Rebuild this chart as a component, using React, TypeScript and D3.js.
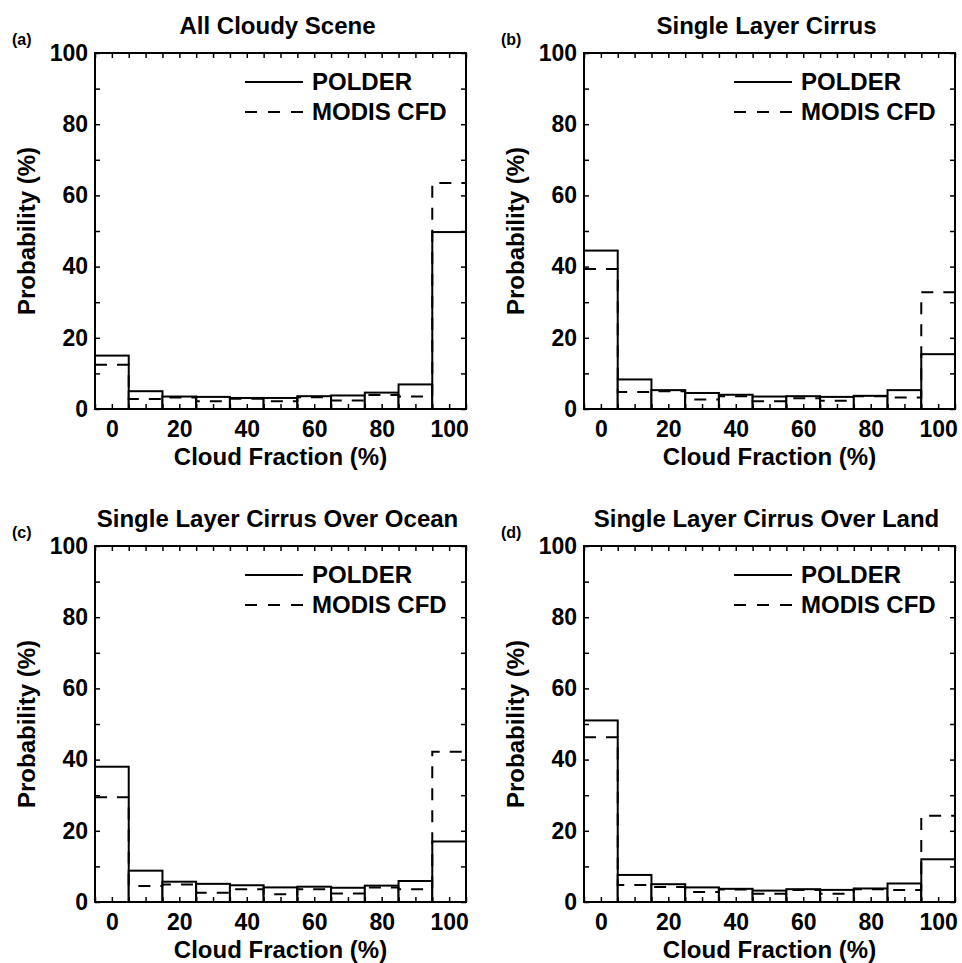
import React, { useEffect, useRef } from "react";
import * as d3 from "d3";

// cloud fraction bins (bin centres, %)
const bins = [0, 10, 20, 30, 40, 50, 60, 70, 80, 90, 100];

const titles = [
  "All Cloudy Scene",
  "Single Layer Cirrus",
  "Single Layer Cirrus Over Ocean",
  "Single Layer Cirrus Over Land",
];
const letters = ["(a)", "(b)", "(c)", "(d)"];

const polderA = [15, 5.0, 3.5, 3.4, 3.1, 3.1, 3.6, 3.8, 4.6, 6.9, 49.7];
const modisA = [12.4, 2.8, 3.2, 2.2, 2.9, 2.2, 3.3, 2.4, 3.9, 3.5, 63.5];
const polderB = [44.5, 8.3, 5.3, 4.5, 4.0, 3.5, 3.6, 3.4, 3.7, 5.3, 15.4];
const modisB = [39.3, 4.8, 5.0, 2.7, 3.6, 2.2, 3.0, 2.3, 3.6, 3.2, 32.8];
const polderC = [38, 8.8, 5.7, 5.1, 4.7, 4.1, 4.3, 4.0, 4.6, 5.9, 17.0];
const modisC = [29.4, 4.5, 4.9, 2.6, 3.6, 2.2, 3.6, 2.4, 4.1, 3.6, 42.2];
const polderD = [51, 7.6, 5.0, 4.1, 3.7, 3.2, 3.6, 3.4, 3.8, 5.2, 12.0];
const modisD = [46.3, 4.8, 4.2, 2.8, 3.5, 2.3, 3.4, 2.3, 3.6, 3.4, 24.2];

const seriesNames = ["POLDER", "MODIS CFD"];

const FONT = "'Liberation Sans', Arial, Helvetica, sans-serif";

function App() {
  const svgRef = useRef<SVGSVGElement>(null);

  useEffect(() => {
    const svg = d3.select(svgRef.current);
    svg.selectAll("*").remove();

    const panels = [
      { left: 95, top: 53, polder: polderA, modis: modisA },
      { left: 584, top: 53, polder: polderB, modis: modisB },
      { left: 95, top: 546, polder: polderC, modis: modisC },
      { left: 584, top: 546, polder: polderD, modis: modisD },
    ];
    const w = 371;
    const h = 356;

    const x = d3.scaleLinear().domain([-5, 105]).range([0, w]);
    const y = d3.scaleLinear().domain([0, 100]).range([h, 0]);

    panels.forEach((p, i) => {
      const g = svg
        .append("g")
        .attr("transform", `translate(${p.left},${p.top})`)
        .style("font-family", FONT)
        .style("font-weight", "bold");

      // POLDER bars (solid)
      g.selectAll(".bar")
        .data(bins)
        .enter()
        .append("rect")
        .attr("x", (d) => x(d - 5))
        .attr("width", (d) => x(d + 5) - x(d - 5))
        .attr("y", (d, j) => y(p.polder[j]))
        .attr("height", (d, j) => h - y(p.polder[j]))
        .attr("fill", "white")
        .attr("stroke", "#000")
        .attr("stroke-width", 2);

      // MODIS CFD step outline (dashed)
      const steps: [number, number][] = bins.map((b, j) => [b - 5, p.modis[j]]);
      steps.push([105, p.modis[p.modis.length - 1]]);
      const line = d3
        .line<[number, number]>()
        .x((d) => x(d[0]))
        .y((d) => y(d[1]))
        .curve(d3.curveStepAfter);
      g.append("path")
        .attr("d", line(steps))
        .attr("fill", "none")
        .attr("stroke", "#000")
        .attr("stroke-width", 2)
        .attr("stroke-dasharray", "12,10");

      // axes: inward ticks
      const xTicks = d3.range(-5, 106, 5);
      const yTicks = d3.range(0, 101, 10);
      const bottom = g
        .append("g")
        .attr("transform", `translate(0,${h})`)
        .call(
          d3
            .axisBottom(x)
            .tickValues(xTicks)
            .tickSizeInner(-5)
            .tickSizeOuter(0)
            .tickPadding(12)
            .tickFormat((d) => (+d >= 0 && +d % 20 === 0 ? String(d) : ""))
        );
      const left = g.append("g").call(
        d3
          .axisLeft(y)
          .tickValues(yTicks)
          .tickSizeInner(-5)
          .tickSizeOuter(0)
          .tickPadding(7)
          .tickFormat((d) => (+d % 20 === 0 ? String(d) : ""))
      );
      const top = g.append("g").call(
        d3.axisTop(x).tickValues(xTicks).tickSizeInner(-5).tickSizeOuter(0).tickFormat(() => "")
      );
      const right = g
        .append("g")
        .attr("transform", `translate(${w},0)`)
        .call(
          d3.axisRight(y).tickValues(yTicks).tickSizeInner(-5).tickSizeOuter(0).tickFormat(() => "")
        );
      [bottom, left, top, right].forEach((a) => {
        a.select(".domain").remove();
        a.selectAll("line").attr("stroke-width", 1.5);
        a.selectAll("text")
          .attr("fill", "#000")
          .style("font-family", FONT)
          .style("font-weight", "bold")
          .style("font-size", "23px");
      });

      // frame
      g.append("rect")
        .attr("width", w)
        .attr("height", h)
        .attr("fill", "none")
        .attr("stroke", "#000")
        .attr("stroke-width", 2);

      // titles and labels
      g.append("text")
        .attr("x", w / 2 - 3)
        .attr("y", -19)
        .attr("text-anchor", "middle")
        .style("font-size", "24px")
        .text(titles[i]);
      g.append("text")
        .attr("x", -83)
        .attr("y", -8)
        .style("font-size", "16px")
        .text(letters[i]);
      g.append("text")
        .attr("x", w / 2)
        .attr("y", h + 56)
        .attr("text-anchor", "middle")
        .style("font-size", "24px")
        .text("Cloud Fraction (%)");
      g.append("text")
        .attr("transform", `translate(-60,${h / 2}) rotate(-90)`)
        .attr("text-anchor", "middle")
        .style("font-size", "24px")
        .text("Probability (%)");

      // legend
      const legend = g.append("g").attr("transform", "translate(150,0)");
      seriesNames.forEach((name, k) => {
        legend
          .append("line")
          .attr("x1", 0)
          .attr("x2", 58)
          .attr("y1", 29 + k * 30)
          .attr("y2", 29 + k * 30)
          .attr("stroke", "#000")
          .attr("stroke-width", 2)
          .attr("stroke-dasharray", k === 1 ? "12,11" : null);
        legend
          .append("text")
          .attr("x", 67)
          .attr("y", 37 + k * 30)
          .style("font-size", "24px")
          .text(name);
      });
    });
  }, []);

  return (
    <svg
      ref={svgRef}
      width={962}
      height={963}
      style={{ position: "absolute", left: 0, top: 0, background: "#fff" }}
    ></svg>
  );
}

export default App;
